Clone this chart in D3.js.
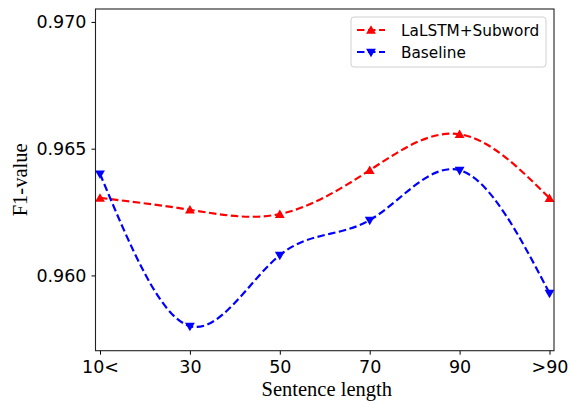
<!DOCTYPE html>
<html><head><meta charset="utf-8">
<script src="https://cdn.jsdelivr.net/npm/d3@7"></script>
<style>body{margin:0;background:#fff}</style>
</head><body>
<svg id="c" width="570" height="401"></svg>
<script>
const categories = ["10<", "30", "50", "70", "90", ">90"];
const lalstm = [0.96306, 0.96259, 0.96242, 0.96415, 0.96557, 0.96305];
const baseline = [0.96401, 0.95800, 0.96080, 0.96218, 0.96415, 0.95930];
const yTicks = [0.960, 0.965, 0.970];
const seriesNames = ["LaLSTM+Subword", "Baseline"];

const svg = d3.select("#c");
const L = 95.5, R = 554, T = 9, B = 350.7;
const x = d3.scaleLinear().domain([-0.05, 5.05]).range([L, R]);
const y = d3.scaleLinear().domain([0.95703, 0.97051]).range([B, T]);

const series = [
  {name: seriesNames[0], values: lalstm, color: "#ff0000", sym: d3.symbolTriangle, rot: 0},
  {name: seriesNames[1], values: baseline, color: "#0000ff", sym: d3.symbolTriangle, rot: 180}
];

const line = d3.line().x((d,i)=>x(i)).y(d=>y(d)).curve(d3.curveNatural);
svg.append("clipPath").attr("id","pc").append("rect")
  .attr("x",L).attr("y",T).attr("width",R-L).attr("height",B-T);

series.forEach(s=>{
  svg.append("path").attr("d", line(s.values)).attr("fill","none")
    .attr("stroke", s.color).attr("stroke-width", 2.2)
    .attr("stroke-dasharray","7.5,3.5").attr("clip-path","url(#pc)");
  svg.selectAll(null).data(s.values).enter().append("path")
    .attr("d", d3.symbol().type(s.sym).size(42))
    .attr("transform",(d,i)=>`translate(${x(i)},${y(d)+(s.rot?-0.5:1)}) rotate(${s.rot})`)
    .attr("fill", s.color);
});

// axes
const xa = svg.append("g").attr("transform",`translate(0,${B})`)
  .call(d3.axisBottom(x).tickValues(d3.range(categories.length)).tickFormat(i=>categories[i]).tickSize(4).tickPadding(6));
const ya = svg.append("g").attr("transform",`translate(${L},0)`)
  .call(d3.axisLeft(y).tickValues(yTicks).tickFormat(d3.format(".3f")).tickSize(4).tickPadding(5));
[xa,ya].forEach(a=>{
  a.select(".domain").remove();
  a.selectAll("text").attr("font-family","DejaVu Sans").attr("font-size","17.5px").attr("fill","#000");
  a.selectAll("line").attr("stroke","#000").attr("stroke-width",1);
});
svg.append("rect").attr("x",L).attr("y",T).attr("width",R-L).attr("height",B-T)
  .attr("fill","none").attr("stroke","#222").attr("stroke-width",1.1);

svg.append("text").attr("x",(L+R)/2 + 2).attr("y",396).attr("text-anchor","middle")
  .attr("font-family","Liberation Serif").attr("font-size","20.5px").text("Sentence length");
svg.append("text").attr("transform",`translate(27,${(T+B)/2}) rotate(-90)`).attr("text-anchor","middle")
  .attr("font-family","Liberation Serif").attr("font-size","20.5px").text("F1-value");

// legend
const lg = svg.append("g");
lg.append("rect").attr("x",351).attr("y",17).attr("width",195).attr("height",50).attr("rx",3)
  .attr("fill","#fff").attr("stroke","#d0d0d0").attr("stroke-width",1);
series.forEach((s,i)=>{
  const yy = 30 + i*22;
  lg.append("line").attr("x1",357).attr("x2",385).attr("y1",yy).attr("y2",yy)
    .attr("stroke",s.color).attr("stroke-width",2.2).attr("stroke-dasharray","7.5,3.5");
  lg.append("path").attr("d", d3.symbol().type(s.sym).size(42))
    .attr("transform",`translate(371,${yy+(s.rot?-0.5:1)}) rotate(${s.rot})`).attr("fill",s.color);
  lg.append("text").attr("x",401).attr("y",yy+5.5).attr("font-family","DejaVu Sans")
    .attr("font-size","15.3px").text(s.name);
});
</script>
</body></html>
